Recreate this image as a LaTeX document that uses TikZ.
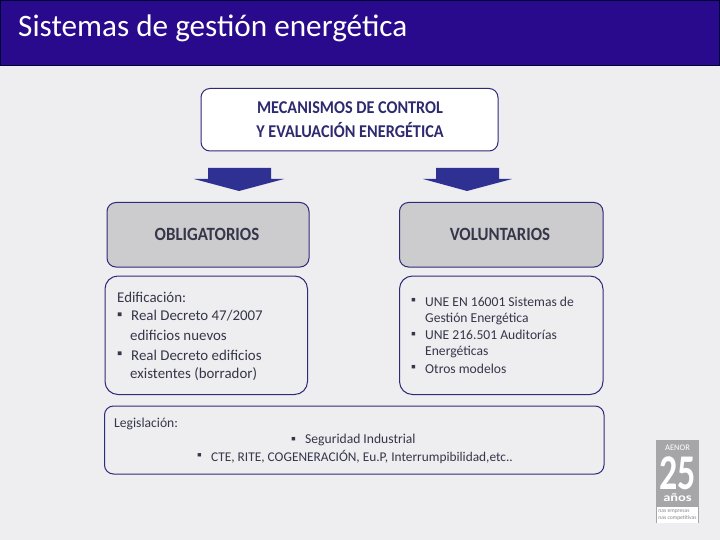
\documentclass[tikz,border=0pt]{standalone}
\usepackage{fontspec}
\setmainfont{Carlito}
\newfontfamily\condf[FakeStretch=0.9]{Carlito}
\newfontfamily\logotall[FakeStretch=0.72]{Carlito}
\newfontfamily\logowide[FakeStretch=1.25]{Carlito}
\definecolor{bgc}{HTML}{EEEEF0}
\definecolor{barc}{HTML}{2A0A8C}
\definecolor{edgec}{HTML}{2E2A78}
\definecolor{headc}{HTML}{2E2A70}
\definecolor{arrc}{HTML}{2E3192}
\definecolor{greyc}{HTML}{CCCCCE}
\definecolor{txtc}{HTML}{36364A}
\definecolor{logoc}{HTML}{A6A6A8}
\tikzset{
 panel/.style={draw=edgec,line width=1pt,rounded corners=9pt},
 txt/.style={anchor=west,inner sep=0pt,text=txtc,font=\fontsize{14.9}{15}\selectfont},
 small/.style={anchor=west,inner sep=0pt,text=txtc,font=\fontsize{13.6}{14}\selectfont},
 lastline/.style={anchor=west,inner sep=0pt,text=txtc,font=\fontsize{13.35}{14}\selectfont},
 head/.style={inner sep=0pt,font=\condf\bfseries\fontsize{18}{24}\selectfont,align=center},
 subhead/.style={inner sep=0pt,text=txtc,font=\condf\bfseries\fontsize{18.7}{24}\selectfont},
 blockarrow/.style={fill=arrc,draw=none},
}
\begin{document}
\begin{tikzpicture}[x=1pt,y=-1pt]
\useasboundingbox (0,0) rectangle (720,540);
\fill[bgc] (0,0) rectangle (720,540);
\fill[barc] (0,0) rectangle (720,65);
\draw[black!80!blue,line width=0.6pt] (0.3,0.3) rectangle (719.7,65);
\node[anchor=west,inner sep=0pt,text=white,font=\fontsize{31.2}{32}\selectfont] (title) at (18,28) {Sistemas de gestión energética};
\draw[panel,fill=white] (201,88.5) rectangle (498,151);
\node[head,text=headc] (main) at (350,120) {MECANISMOS DE CONTROL\\Y EVALUACIÓN ENERGÉTICA};
\fill[blockarrow] (208,168) -- (271,168) -- (271,179) -- (284,179) -- (239,191) -- (194,179) -- (208,179) -- cycle;
\fill[blockarrow] (436,168) -- (499,168) -- (499,179) -- (512,179) -- (467,191) -- (423,179) -- (436,179) -- cycle;
\draw[panel,fill=greyc] (107,202.5) rectangle (309,267);
\node[subhead] (oblig) at (207,234) {OBLIGATORIOS};
\draw[panel,fill=greyc] (399.5,202.5) rectangle (603,267);
\node[subhead] (volun) at (500,234) {VOLUNTARIOS};
\draw[panel,rounded corners=13pt] (105,276) rectangle (307.5,394.5);
\node[txt] (e1) at (117,297) {Edificación:};
\node[txt] (e2) at (117,316) {▪};
\node[txt] (e3) at (131,316) {Real Decreto 47/2007};
\node[txt] (e4) at (130,335) {edificios nuevos};
\node[txt] (e5) at (117,355) {▪};
\node[txt] (e6) at (131,355) {Real Decreto edificios};
\node[txt] (e7) at (130,374) {existentes (borrador)};
\draw[panel,rounded corners=13pt] (399.5,276) rectangle (603,394.5);
\node[small] (v1) at (411,301.5) {▪};
\node[small] (v2) at (425,301.5) {UNE EN 16001 Sistemas de};
\node[small] (v3) at (425,318.5) {Gestión Energética};
\node[small] (v4) at (411,335) {▪};
\node[small] (v5) at (425,335) {UNE 216.501 Auditorías};
\node[small] (v6) at (425,352) {Energéticas};
\node[small] (v7) at (411,368.5) {▪};
\node[small] (v8) at (425,368.5) {Otros modelos};
\draw[panel] (104.5,406) rectangle (604,474);
\node[small] (l1) at (114,423.5) {Legislación:};
\node[small] (l2) at (291,440) {▪};
\node[small] (l3) at (305,440) {Seguridad Industrial};
\node[lastline] (l4) at (197,456.5) {▪};
\node[lastline] (l5) at (211,456.5) {CTE, RITE, COGENERACIÓN, Eu.P, Interrumpibilidad,etc..};
\fill[logoc] (656,440) rectangle (699,523);
\fill[white] (657,507) rectangle (698,522.5);
\node[inner sep=0pt,text=white,font=\fontsize{8.5}{9}\selectfont] (l6) at (677.5,448) {AENOR};
\node[inner sep=0pt,text=white,font=\logotall\bfseries\fontsize{50}{50}\selectfont] (l7) at (677.5,473) {25};
\node[inner sep=0pt,text=white,font=\logowide\bfseries\fontsize{11.5}{12}\selectfont] (l8) at (677.5,498) {años};
\node[inner sep=0pt,text=logoc!80!black,font=\fontsize{5.6}{7}\selectfont,align=left] (l9) at (677.5,515) {nas empresas\\nas competitivas};
\end{tikzpicture}
\end{document}
